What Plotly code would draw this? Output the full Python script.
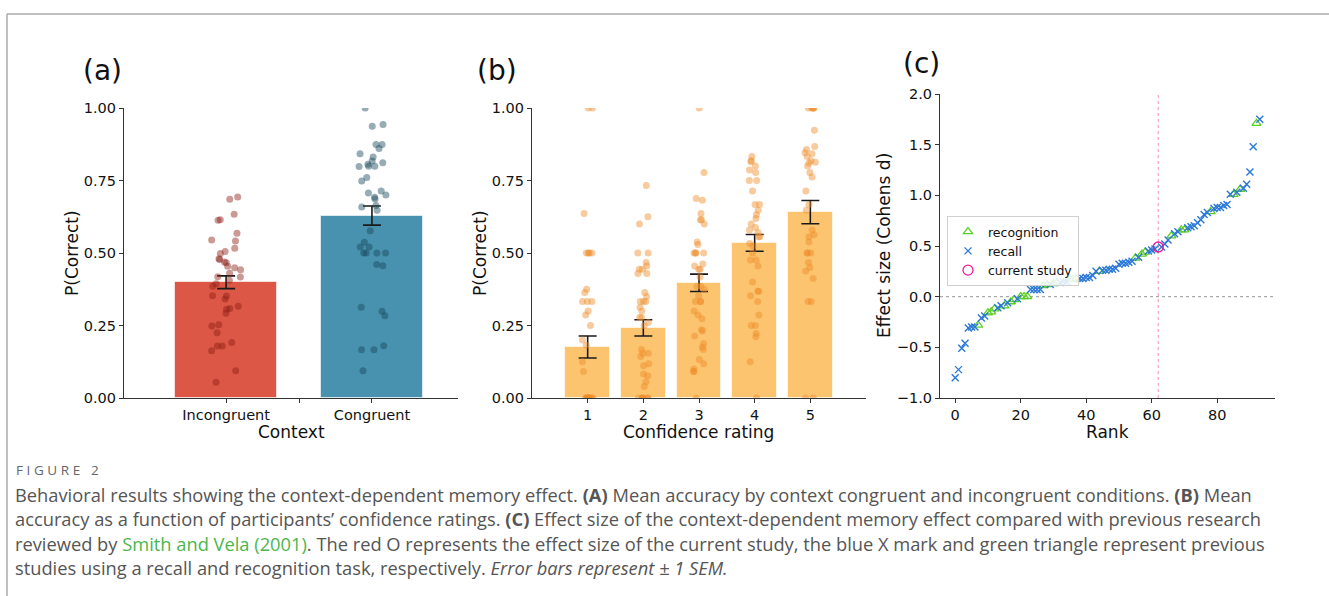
import numpy as np
import plotly.graph_objects as go

W, H = 1329, 596

# ---------------- data ----------------
context_labels = ["Incongruent", "Congruent"]
context_means = [0.399, 0.629]
context_sems = [0.022, 0.033]
incongruent_pts = [0.685, 0.693, 0.634, 0.613, 0.615, 0.568, 0.545, 0.541, 0.516, 0.505,
                   0.498, 0.478, 0.480, 0.469, 0.466, 0.454, 0.442, 0.449, 0.430, 0.417,
                   0.418, 0.394, 0.406, 0.385, 0.353, 0.352, 0.341, 0.316, 0.309, 0.306,
                   0.292, 0.253, 0.248, 0.225, 0.191, 0.179, 0.179, 0.163, 0.094, 0.054]
congruent_pts = [1.0, 0.943, 0.937, 0.874, 0.874, 0.860, 0.842, 0.831, 0.817, 0.811,
                 0.806, 0.799, 0.798, 0.799, 0.760, 0.748, 0.714, 0.707, 0.700, 0.692,
                 0.686, 0.664, 0.647, 0.659, 0.577, 0.537, 0.521, 0.521, 0.5, 0.5,
                 0.5, 0.5, 0.456, 0.460, 0.313, 0.299, 0.284, 0.180, 0.166, 0.166, 0.094]

conf_ratings = [1, 2, 3, 4, 5]
conf_means = [0.176, 0.242, 0.397, 0.535, 0.641]
conf_sems = [0.038, 0.028, 0.030, 0.029, 0.040]
rating1_pts = [1.0, 1.0, 0.636, 0.5, 0.5, 0.5, 0.5, 0.375, 0.364, 0.333, 0.333, 0.333,
               0.3, 0.286, 0.25, 0.2, 0.182, 0.125, 0.091,
               0.0, 0.0, 0.0, 0.0, 0.0, 0.0, 0.0, 0.0, 0.0, 0.0]
rating2_pts = [0.733, 0.625, 0.6, 0.5, 0.5, 0.467, 0.455, 0.444, 0.444, 0.429, 0.429,
               0.364, 0.35, 0.333, 0.333, 0.333, 0.313, 0.3, 0.278, 0.278, 0.26, 0.25,
               0.167, 0.143, 0.154, 0.154, 0.118, 0.111, 0.083, 0.077, 0.056, 0.04,
               0.0, 0.0, 0.0, 0.0, 0.0, 0.0]
rating3_pts = [1.0, 0.778, 0.688, 0.682, 0.636, 0.615, 0.615, 0.6, 0.538, 0.529, 0.5,
               0.5, 0.5, 0.5, 0.462, 0.455, 0.444, 0.444, 0.417, 0.385, 0.385, 0.375,
               0.353, 0.333, 0.333, 0.333, 0.3, 0.286, 0.273, 0.231, 0.235, 0.214,
               0.188, 0.176, 0.167, 0.133, 0.118, 0.1, 0.091, 0.091, 0.0]
rating4_pts = [0.833, 0.818, 0.8, 0.786, 0.778, 0.815, 0.75, 0.75, 0.714, 0.667, 0.667,
               0.647, 0.632, 0.619, 0.6, 0.588, 0.579, 0.571, 0.556, 0.556, 0.533,
               0.524, 0.5, 0.476, 0.476, 0.455, 0.4, 0.368, 0.368, 0.353, 0.333,
               0.286, 0.25, 0.25, 0.222, 0.211, 0.125, 0.0]
rating5_pts = [1.0, 1.0, 1.0, 1.0, 1.0, 0.923, 0.867, 0.857, 0.846, 0.842, 0.833, 0.818,
               0.813, 0.81, 0.8, 0.778, 0.762, 0.714, 0.667, 0.647, 0.579, 0.563,
               0.556, 0.538, 0.5, 0.5, 0.5, 0.467, 0.45, 0.438, 0.412, 0.333, 0.333,
               0.0, 0.0]
rating_pts = [rating1_pts, rating2_pts, rating3_pts, rating4_pts, rating5_pts]

effect_sizes = [-0.80, -0.72, -0.51, -0.46, -0.31, -0.30, -0.30, -0.28, -0.21, -0.19,
                -0.16, -0.15, -0.12, -0.11, -0.09, -0.09, -0.06, -0.05, -0.03, -0.02,
                0.00, 0.00, 0.00, 0.07, 0.07, 0.07, 0.07, 0.11, 0.12, 0.12,
                0.13, 0.14, 0.14, 0.15, 0.15, 0.17, 0.17, 0.18, 0.18, 0.18,
                0.19, 0.19, 0.21, 0.25, 0.25, 0.26, 0.26, 0.27, 0.27, 0.28,
                0.32, 0.33, 0.33, 0.34, 0.35, 0.38, 0.39, 0.42, 0.44, 0.45,
                0.46, 0.47, 0.49, 0.49, 0.52, 0.56, 0.60, 0.62, 0.64, 0.66,
                0.66, 0.68, 0.69, 0.70, 0.73, 0.76, 0.81, 0.83, 0.84, 0.87,
                0.88, 0.88, 0.90, 0.91, 1.01, 1.01, 1.03, 1.06, 1.07, 1.11,
                1.23, 1.48, 1.71, 1.75]
task_types = ["recall", "recall", "recall", "recall", "recall", "recall", "recall", "recognition", "recall", "recall",
              "recognition", "recognition", "recognition", "recall", "recall", "recognition", "recall", "recognition", "recognition", "recall",
              "recognition", "recognition", "recognition", "recall", "recall", "recall", "recall", "recognition", "recognition", "recall",
              "recognition", "recognition", "recall", "recall", "recall", "recognition", "recognition", "recognition", "recall", "recall",
              "recall", "recall", "recall", "recall", "recognition", "recall", "recall", "recall", "recall", "recall",
              "recall", "recall", "recall", "recall", "recall", "recognition", "recall", "recognition", "recognition", "recall",
              "recall", "recall", "current", "recall", "recall", "recall", "recognition", "recall", "recall", "recognition",
              "recognition", "recall", "recall", "recall", "recall", "recall", "recall", "recall", "recognition", "recall",
              "recall", "recall", "recall", "recall", "recall", "recognition", "recall", "recognition", "recall", "recall",
              "recall", "recall", "recognition", "recall"]

caption_head = "FIGURE 2"
caption_lines = [
    "Behavioral results showing the context-dependent memory effect. <b>(A)</b> Mean accuracy by context congruent and incongruent conditions. <b>(B)</b> Mean",
    "accuracy as a function of participants’ confidence ratings. <b>(C)</b> Effect size of the context-dependent memory effect compared with previous research",
    "reviewed by <span style='color:#4cb64c'>Smith and Vela (2001)</span>. The red O represents the effect size of the current study, the blue X mark and green triangle represent previous",
    "studies using a recall and recognition task, respectively. <i>Error bars represent ± 1 SEM.</i>",
]

# ---------------- helpers ----------------
def px_x(p):
    return p / W

def px_y(p):
    return 1 - p / H

rng = np.random.default_rng(7)
FONT = "DejaVu Sans"
AX = "#333333"

fig = go.Figure()

# ---------------- panel (a) ----------------
bar_colors_a = ["#dc5746", "#4892b0"]
pt_colors_a = ["rgba(140,30,20,0.45)", "rgba(25,70,90,0.45)"]
fig.add_trace(go.Bar(
    x=[0, 1], y=context_means, width=0.7,
    marker=dict(color=bar_colors_a, line=dict(color="rgba(255,255,255,0.6)", width=1)),
    error_y=dict(type="data", array=context_sems, color="#1a1a1a", thickness=1.6, width=9),
    xaxis="x", yaxis="y", showlegend=False, hoverinfo="skip"))
for i, pts in enumerate([incongruent_pts, congruent_pts]):
    jit = rng.uniform(-0.1, 0.1, len(pts))
    fig.add_trace(go.Scatter(
        x=i + jit, y=pts, mode="markers",
        marker=dict(size=7, color=pt_colors_a[i], line=dict(width=0)),
        xaxis="x", yaxis="y", showlegend=False, hoverinfo="skip"))

# ---------------- panel (b) ----------------
fig.add_trace(go.Bar(
    x=conf_ratings, y=conf_means, width=0.8,
    marker=dict(color="#fdc470", line=dict(color="rgba(255,255,255,0.6)", width=1)),
    error_y=dict(type="data", array=conf_sems, color="#1a1a1a", thickness=1.6, width=9),
    xaxis="x2", yaxis="y2", showlegend=False, hoverinfo="skip"))
for r, pts in zip(conf_ratings, rating_pts):
    jit = rng.uniform(-0.1, 0.1, len(pts))
    fig.add_trace(go.Scatter(
        x=r + jit, y=pts, mode="markers",
        marker=dict(size=7, color="rgba(238,140,40,0.45)", line=dict(width=0)),
        xaxis="x2", yaxis="y2", showlegend=False, hoverinfo="skip"))

# ---------------- panel (c) ----------------
ranks = list(range(len(effect_sizes)))
def subset(kind):
    xs = [r for r, t in zip(ranks, task_types) if t == kind]
    ys = [v for v, t in zip(effect_sizes, task_types) if t == kind]
    return xs, ys

xs, ys = subset("recognition")
fig.add_trace(go.Scatter(x=xs, y=ys, mode="markers", name="recognition",
                         marker=dict(symbol="triangle-up-open", size=8, color="#5ccf24",
                                     line=dict(width=1.3, color="#5ccf24")),
                         xaxis="x3", yaxis="y3"))
xs, ys = subset("recall")
fig.add_trace(go.Scatter(x=xs, y=ys, mode="markers", name="recall",
                         marker=dict(symbol="x-thin", size=7, color="#2a78d8",
                                     line=dict(width=1.4, color="#2a78d8")),
                         xaxis="x3", yaxis="y3"))
xs, ys = subset("current")
fig.add_trace(go.Scatter(x=xs, y=ys, mode="markers", name="current study",
                         marker=dict(symbol="circle-open", size=10, color="#f0199a",
                                     line=dict(width=1.3, color="#f0199a")),
                         xaxis="x3", yaxis="y3"))

cur_rank = [r for r, t in zip(ranks, task_types) if t == "current"][0]
xr3 = [-4.65, len(effect_sizes) - 1 + 4.65]
fig.add_shape(type="line", xref="x3", yref="y3", x0=xr3[0], x1=xr3[1], y0=0, y1=0,
              line=dict(color="#aaaaaa", width=1.2, dash="dot"), layer="below")
fig.add_shape(type="line", xref="x3", yref="y3", x0=cur_rank, x1=cur_rank, y0=-1, y1=2,
              line=dict(color="#f5a3c7", width=1.2, dash="dot"), layer="below")

# ---------------- axes ----------------
ydom = [px_y(398), px_y(108)]
common = dict(showline=True, linecolor=AX, linewidth=1.1, ticks="outside", ticklen=4,
              tickwidth=1.1, tickcolor=AX, showgrid=False, zeroline=False,
              tickfont=dict(family=FONT, size=14.5, color="#111"))

fig.update_layout(
    xaxis=dict(domain=[px_x(124), px_x(458)], range=[-0.70, 1.59],
               tickvals=[0, 0.5, 1], ticktext=[context_labels[0], "", context_labels[1]],
               anchor="y", **common),
    yaxis=dict(domain=ydom, range=[0, 1], tickvals=[0, 0.25, 0.5, 0.75, 1.0],
               tickformat=".2f", anchor="x", **common),
    xaxis2=dict(domain=[px_x(532), px_x(866)], range=[0, 6], tickvals=conf_ratings,
                anchor="y2", **common),
    yaxis2=dict(domain=ydom, range=[0, 1], tickvals=[0, 0.25, 0.5, 0.75, 1.0],
                tickformat=".2f", anchor="x2", **common),
    xaxis3=dict(domain=[px_x(940), px_x(1275)], range=xr3, tickvals=[0, 20, 40, 60, 80],
                anchor="y3", **common),
    yaxis3=dict(domain=[px_y(398), px_y(94)], range=[-1, 2],
                tickvals=[-1, -0.5, 0, 0.5, 1, 1.5, 2],
                ticktext=["−1.0", "−0.5", "0.0", "0.5", "1.0", "1.5", "2.0"],
                anchor="x3", **common),
)

fig.update_layout(
    width=W, height=H, margin=dict(l=0, r=0, t=0, b=0, autoexpand=False),
    paper_bgcolor="white", plot_bgcolor="white",
    bargap=0,
    legend=dict(x=px_x(947), y=px_y(216), xanchor="left", yanchor="top",
                bgcolor="rgba(255,255,255,0.85)", bordercolor="#d0d0d0", borderwidth=1,
                font=dict(family=FONT, size=12.5, color="#111"), tracegroupgap=0),
)

# ---------------- annotations ----------------
ann = []
def text(x, y, s, size, angle=0, xanchor="center", family=FONT, color="#111"):
    ann.append(dict(xref="paper", yref="paper", x=px_x(x), y=px_y(y), text=s,
                    showarrow=False, xanchor=xanchor, yanchor="middle", textangle=angle,
                    font=dict(family=family, size=size, color=color)))

text(102, 70, "(a)", 28)
text(497, 70, "(b)", 28)
text(921, 63, "(c)", 28)
text(72, 253, "P(Correct)", 17, angle=-90)
text(480, 253, "P(Correct)", 17, angle=-90)
text(884, 246, "Effect size (Cohens d)", 17, angle=-90)
text(291, 432, "Context", 17)
text(699, 432, "Confidence rating", 17)
text(1107, 432, "Rank", 17)

CAP = "Open Sans"
text(14, 470, "<span style='letter-spacing:3.6px'>" + caption_head + "</span>", 13.5,
     xanchor="left", family=CAP, color="#666")
for i, line in enumerate(caption_lines):
    text(13, 494 + i * 24.5, line, 18.3, xanchor="left", family=CAP, color="#555")
fig.update_layout(annotations=ann)

# frame lines
fig.add_shape(type="line", xref="paper", yref="paper", x0=px_x(7), x1=1, y0=px_y(14), y1=px_y(14),
              line=dict(color="#aaaaaa", width=1.5))
fig.add_shape(type="line", xref="paper", yref="paper", x0=px_x(7), x1=px_x(7), y0=px_y(14), y1=0,
              line=dict(color="#aaaaaa", width=1.5))

fig.write_html("out.html", config={"displayModeBar": False},
               post_script="document.body.style.margin='0';document.body.style.padding='0';")
